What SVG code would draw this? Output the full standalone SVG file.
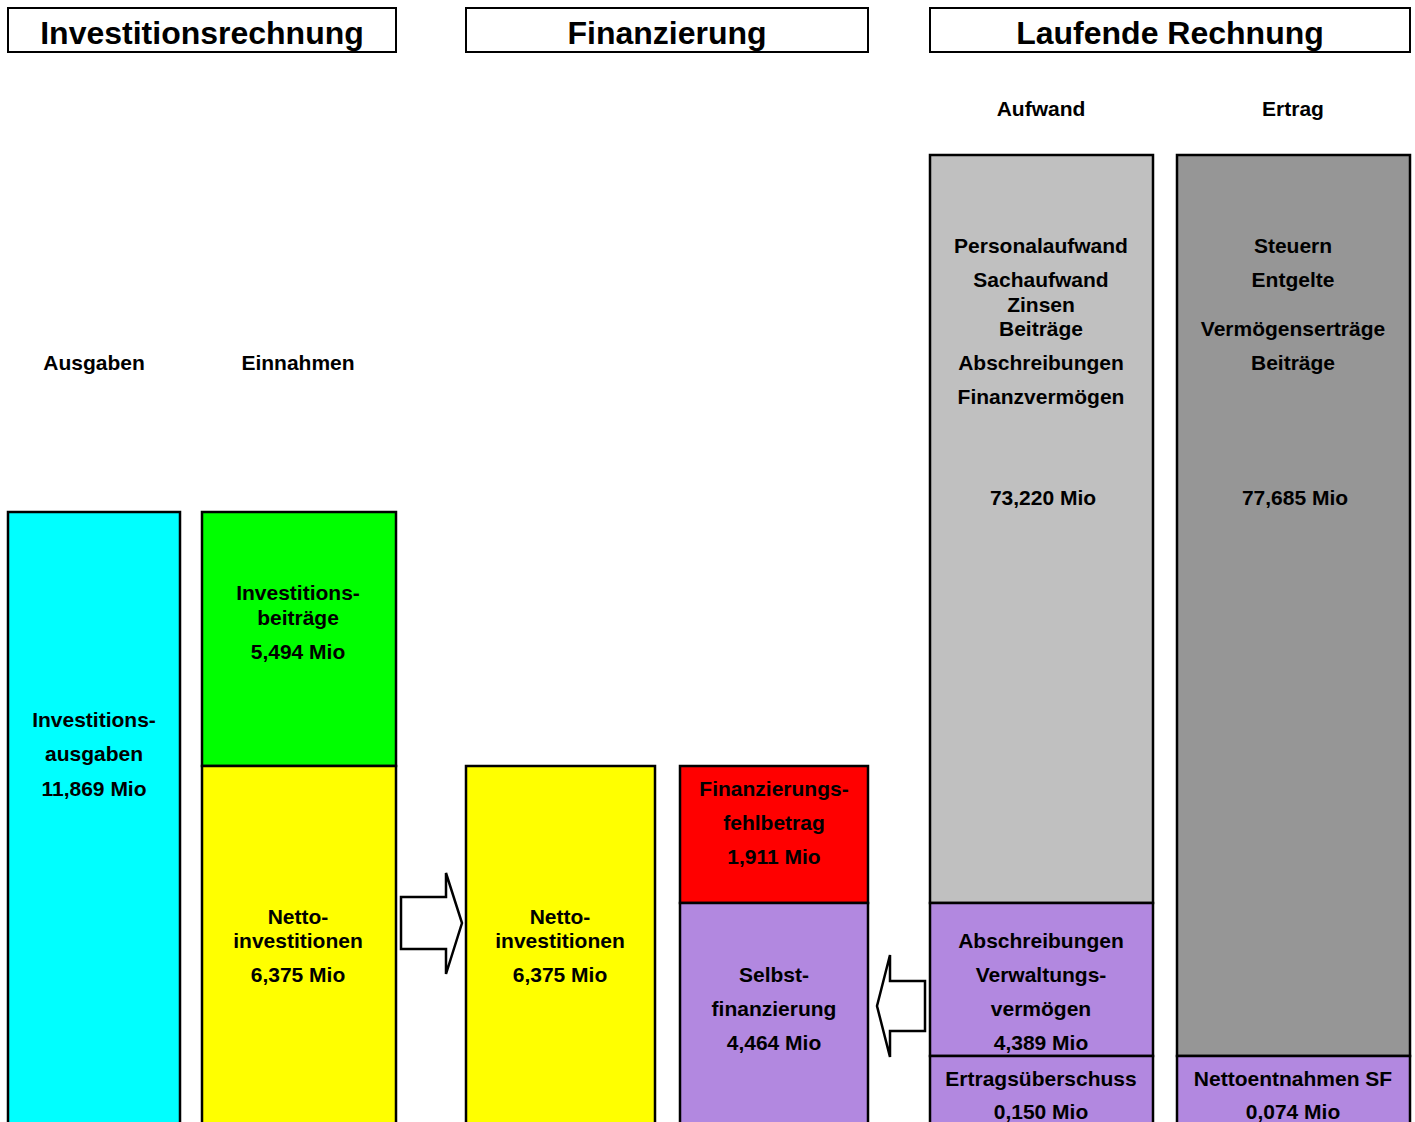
<svg xmlns="http://www.w3.org/2000/svg" width="1415" height="1122" viewBox="0 0 1415 1122">
<style>
text{font-family:"Liberation Sans",Arial,sans-serif;font-weight:bold;text-anchor:middle;fill:#000}
.h{font-size:32px}
.t{font-size:21px}
.box{stroke:#000;stroke-width:2.5}
.hdr{fill:#fff;stroke:#000;stroke-width:2}
.arrow{fill:#fff;stroke:#000;stroke-width:2.5;stroke-linejoin:miter}
</style>
<rect width="1415" height="1122" fill="#fff"/>
<g id="headers">
<rect class="hdr" x="8" y="8" width="388" height="44"/>
<text class="h" x="202" y="44">Investitionsrechnung</text>
<rect class="hdr" x="466" y="8" width="402" height="44"/>
<text class="h" x="667" y="44">Finanzierung</text>
<rect class="hdr" x="930" y="8" width="480" height="44"/>
<text class="h" x="1170" y="44">Laufende Rechnung</text>
</g>
<g id="labels">
<text class="t" x="94" y="370">Ausgaben</text>
<text class="t" x="298" y="370">Einnahmen</text>
<text class="t" x="1041" y="116">Aufwand</text>
<text class="t" x="1293" y="116">Ertrag</text>
</g>
<g id="investitionsausgaben">
<rect class="box" x="8" y="512" width="172" height="620" fill="#00ffff"/>
<text class="t" x="94" y="727">Investitions-</text>
<text class="t" x="94" y="761">ausgaben</text>
<text class="t" x="94" y="796">11,869 Mio</text>
</g>
<g id="investitionsbeitraege">
<rect class="box" x="202" y="512" width="194" height="254" fill="#00ff00"/>
<text class="t" x="298" y="600">Investitions-</text>
<text class="t" x="298" y="625">beiträge</text>
<text class="t" x="298" y="659">5,494 Mio</text>
</g>
<g id="nettoinvestitionen1">
<rect class="box" x="202" y="766" width="194" height="366" fill="#ffff00"/>
<text class="t" x="298" y="924">Netto-</text>
<text class="t" x="298" y="948">investitionen</text>
<text class="t" x="298" y="982">6,375 Mio</text>
</g>
<g id="nettoinvestitionen2">
<rect class="box" x="466" y="766" width="189" height="366" fill="#ffff00"/>
<text class="t" x="560" y="924">Netto-</text>
<text class="t" x="560" y="948">investitionen</text>
<text class="t" x="560" y="982">6,375 Mio</text>
</g>
<g id="finanzierungsfehlbetrag">
<rect class="box" x="680" y="766" width="188" height="137" fill="#ff0000"/>
<text class="t" x="774" y="796">Finanzierungs-</text>
<text class="t" x="774" y="830">fehlbetrag</text>
<text class="t" x="774" y="864">1,911 Mio</text>
</g>
<g id="selbstfinanzierung">
<rect class="box" x="680" y="903" width="188" height="229" fill="#b288e0"/>
<text class="t" x="774" y="982">Selbst-</text>
<text class="t" x="774" y="1016">finanzierung</text>
<text class="t" x="774" y="1050">4,464 Mio</text>
</g>
<g id="aufwand">
<rect class="box" x="930" y="155" width="223" height="748" fill="#c0c0c0"/>
<text class="t" x="1041" y="253">Personalaufwand</text>
<text class="t" x="1041" y="287">Sachaufwand</text>
<text class="t" x="1041" y="312">Zinsen</text>
<text class="t" x="1041" y="336">Beiträge</text>
<text class="t" x="1041" y="370">Abschreibungen</text>
<text class="t" x="1041" y="404">Finanzvermögen</text>
<text class="t" x="1043" y="505">73,220 Mio</text>
</g>
<g id="abschreibungen-vv">
<rect class="box" x="930" y="903" width="223" height="153" fill="#b288e0"/>
<text class="t" x="1041" y="948">Abschreibungen</text>
<text class="t" x="1041" y="982">Verwaltungs-</text>
<text class="t" x="1041" y="1016">vermögen</text>
<text class="t" x="1041" y="1050">4,389 Mio</text>
</g>
<g id="ertragsueberschuss">
<rect class="box" x="930" y="1056" width="223" height="76" fill="#b288e0"/>
<text class="t" x="1041" y="1086">Ertragsüberschuss</text>
<text class="t" x="1041" y="1119">0,150 Mio</text>
</g>
<g id="ertrag">
<rect class="box" x="1177" y="155" width="233" height="901" fill="#969696"/>
<text class="t" x="1293" y="253">Steuern</text>
<text class="t" x="1293" y="287">Entgelte</text>
<text class="t" x="1293" y="336">Vermögenserträge</text>
<text class="t" x="1293" y="370">Beiträge</text>
<text class="t" x="1295" y="505">77,685 Mio</text>
</g>
<g id="nettoentnahmen">
<rect class="box" x="1177" y="1056" width="233" height="76" fill="#b288e0"/>
<text class="t" x="1293" y="1086">Nettoentnahmen SF</text>
<text class="t" x="1293" y="1119">0,074 Mio</text>
</g>
<g id="connectors">
<polygon class="arrow" points="401,897 446,897 446,873 462,923 446,974 446,949 401,949"/>
<polygon class="arrow" points="925,981 890,981 890,955 877,1006 890,1057 890,1031 925,1031"/>
</g>
</svg>
